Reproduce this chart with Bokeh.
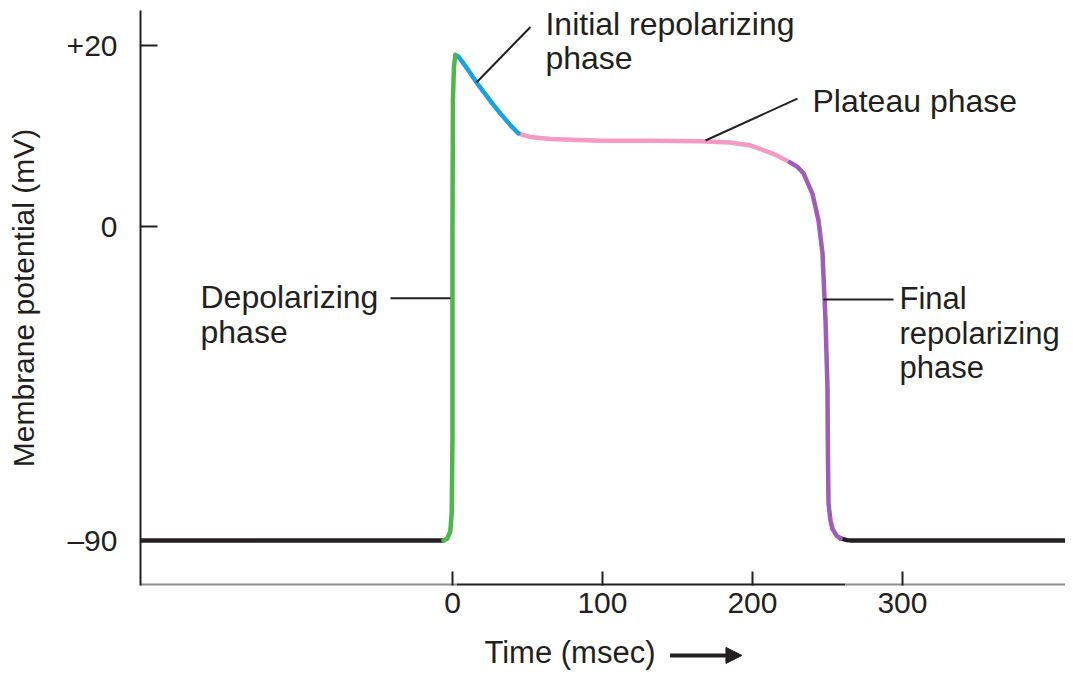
import numpy as np
from bokeh.plotting import figure
from bokeh.layouts import column
from bokeh.models import Label, Arrow, NormalHead, FixedTicker, Range1d
from bokeh.embed import file_html
from bokeh.resources import INLINE

# ---------------- data (time in ms, membrane potential in mV) ----------------
rest_t = [-208, -10, -6]
rest_mv = [-90, -90, -90]

depol_t = [-6, -3.5, -1.5, -0.5, 0, 0, 0, 0.3, 1.0, 2.0]
depol_mv = [-90, -89.5, -87.5, -82, -60, -20, 0, 14, 17.8, 19.0]

init_t = [2.0, 4.0, 6.7, 11, 16.7, 25.3, 32, 38.7, 44]
init_mv = [19.0, 18.8, 18.2, 17.2, 15.8, 13.9, 12.5, 11.2, 10.3]

plateau_t = [44, 52, 65, 99, 132, 165, 185, 198, 205, 216, 225]
plateau_mv = [10.3, 9.9, 9.7, 9.5, 9.5, 9.45, 9.3, 9.0, 8.6, 7.9, 7.1]

final_t = [225, 230, 234, 240, 244, 246.7, 248.7, 250, 250.3, 250.7, 252, 253.3, 256, 258.7]
final_mv = [7.1, 6.6, 5.9, 3.6, 0.7, -7.7, -26.9, -46.1, -65.1, -79.4, -84.3, -86.6, -88.6, -89.4]

tail_t = [258.7, 263, 266, 409]
tail_mv = [-89.4, -89.9, -90, -90]

xtick_ms = [0, 100, 200, 300]
ytick_mv = [20, 0, -90]
ytick_labels = ["+20", "0", "\u201390"]

phase_labels = {
    "initial": ["Initial repolarizing", "phase"],
    "plateau": ["Plateau phase"],
    "depol": ["Depolarizing", "phase"],
    "final": ["Final", "repolarizing", "phase"],
}

# ---------------- schematic (piecewise) vertical scale ----------------
POS_PX = 180.6 / 20.0   # px per mV above 0
NEG_PX = 314.0 / 90.0   # px per mV below 0


def disp(v):
    v = np.asarray(v, dtype=float)
    return np.where(v >= 0, v, v * NEG_PX / POS_PX)


X0, X1 = -208.0, 408.7
Y0, Y1 = -39.76, 23.92
LIFT = 10.0 / POS_PX    # raise label baselines by ~10 px

INK = "#231f20"
FONT = "Liberation Sans"
W = 1065

p = figure(width=W, height=629, output_backend="svg", toolbar_location=None,
           x_range=Range1d(X0, X1), y_range=Range1d(Y0, Y1),
           min_border_left=140, min_border_right=0, min_border_top=10,
           min_border_bottom=44)
p.outline_line_color = None
p.xgrid.visible = False
p.ygrid.visible = False

# x axis
xa = p.xaxis[0]
xa.ticker = FixedTicker(ticks=xtick_ms)
xa.axis_line_color = None
xa.major_tick_in = 14
xa.major_tick_out = 0
xa.major_tick_line_width = 2
xa.major_tick_line_color = INK
xa.minor_tick_line_color = None
xa.major_label_text_font = FONT
xa.major_label_text_font_size = "30px"
xa.major_label_text_color = INK
xa.major_label_standoff = 7

# y axis
ya = p.yaxis[0]
yt = [round(float(v), 2) for v in disp(ytick_mv)]
ya.ticker = FixedTicker(ticks=yt)
ya.major_label_overrides = {t: l for t, l in zip(yt, ytick_labels)}
ya.axis_line_width = 2
ya.axis_line_color = INK
ya.major_tick_in = 17
ya.major_tick_out = 0
ya.major_tick_line_width = 2
ya.major_tick_line_color = INK
ya.minor_tick_line_color = None
ya.major_label_text_font = FONT
ya.major_label_text_font_size = "30px"
ya.major_label_text_color = INK
ya.major_label_standoff = 23
ya.axis_label = "Membrane potential (mV)"
ya.axis_label_text_font = FONT
ya.axis_label_text_font_size = "30px"
ya.axis_label_text_font_style = "normal"
ya.axis_label_text_color = INK
ya.axis_label_standoff = 24

# time-axis line: grey outside the action potential, black beneath it
p.segment(x0=[X0, 3, 262], y0=[Y0] * 3, x1=[3, 262, X1], y1=[Y0] * 3,
          line_color=["#8c8c8c", INK, "#8c8c8c"], line_width=4)

# ---------------- curve ----------------
segments = [
    (rest_t, rest_mv, INK),
    (tail_t, tail_mv, INK),
    (plateau_t, plateau_mv, "#f49ac2"),
    (init_t, init_mv, "#1ba1dd"),
    (final_t, final_mv, "#a05db5"),
    (depol_t, depol_mv, "#4cb849"),
]
for t, mv, c in segments:
    p.line(t, disp(mv), line_color=c, line_width=4.5, line_cap="round", line_join="round")

# ---------------- leader lines ----------------
lead_x0 = [16, 168.7, -41.3, 247.3]
lead_mv0 = [15.95, 9.52, -20.6, -20.9]
lead_x1 = [52, 230, -1.3, 294]
lead_mv1 = [22.1, 14.17, -20.6, -20.9]
p.segment(x0=lead_x0, y0=disp(lead_mv0), x1=lead_x1, y1=disp(lead_mv1),
          line_color=INK, line_width=2)

# ---------------- phase labels ----------------
label_anchor = {
    "initial": (62, [21.37, 17.5], "32px"),
    "plateau": (240, [12.74], "32px"),
    "depol": (-168, [-23.2, -33.2], "32px"),
    "final": (298, [-23.5, -33.5, -43.3], "31px"),
}
for key, lines in phase_labels.items():
    x, ys, fs = label_anchor[key]
    for line, y in zip(lines, ys):
        p.add_layout(Label(x=x, y=float(disp(y)) + LIFT, text=line, text_font=FONT,
                           text_font_size=fs, text_color=INK,
                           text_baseline="alphabetic", text_align="left"))

# ---------------- time title with arrow (strip below the axis) ----------------
p2 = figure(width=W, height=42, output_backend="svg", toolbar_location=None,
            x_range=p.x_range, y_range=Range1d(-49.28, -44.63),
            x_axis_location=None, y_axis_location=None,
            min_border_left=140, min_border_right=0, min_border_top=0,
            min_border_bottom=0)
p2.outline_line_color = None
p2.xgrid.visible = False
p2.ygrid.visible = False
p2.add_layout(Label(x=21.3, y=-48.6 + 13.0 / POS_PX, text="Time (msec)", text_font=FONT,
                    text_font_size="31px", text_color=INK,
                    text_baseline="alphabetic", text_align="left"))
p2.add_layout(Arrow(end=NormalHead(size=16, fill_color=INK, line_color=INK),
                    x_start=145, y_start=-47.5, x_end=193, y_end=-47.5,
                    line_width=4, line_color=INK))

layout = column(p, p2, spacing=0)
open("out.html", "w").write(file_html(layout, INLINE))
